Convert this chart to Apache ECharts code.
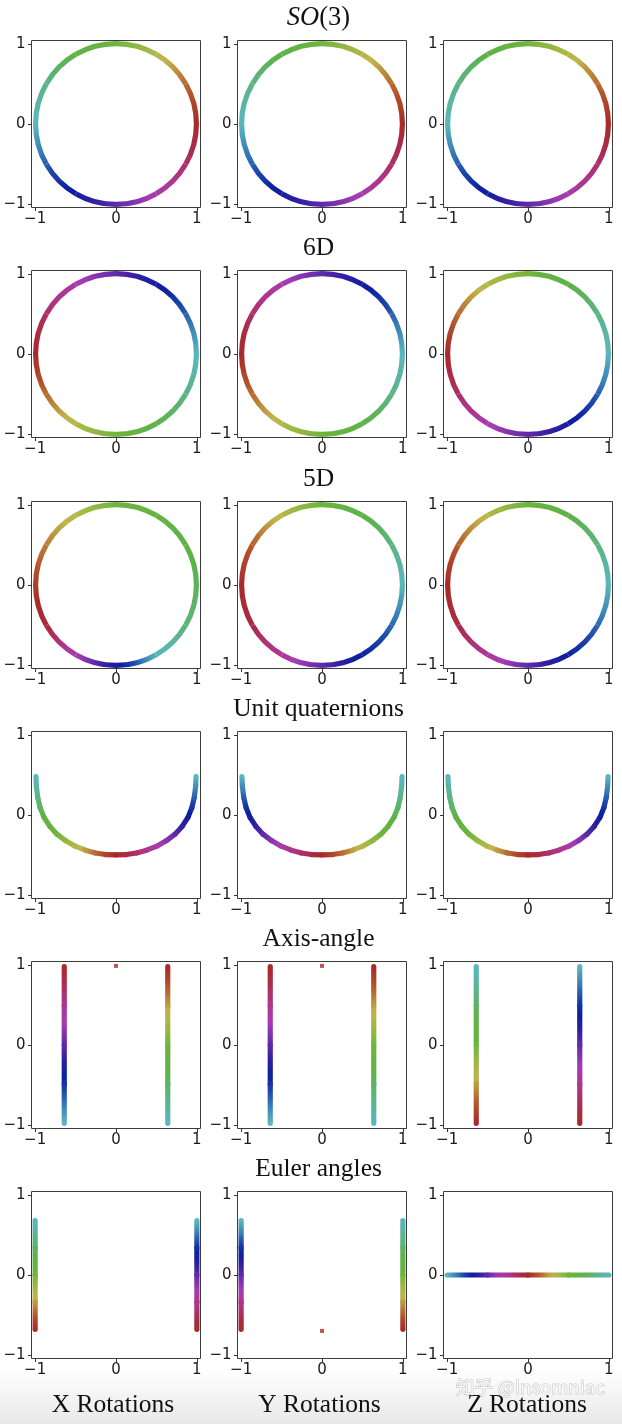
<!DOCTYPE html>
<html><head><meta charset="utf-8">
<script src="https://cdn.jsdelivr.net/npm/echarts@6/dist/echarts.min.js"></script>
<style>html,body{margin:0;padding:0;background:#fff}#c{width:622px;height:1424px}</style>
</head><body><div id="c"></div>
<script>
// ---------------- data ----------------
const ROW_TITLES = ['SO(3)', '6D', '5D', 'Unit quaternions', 'Axis-angle', 'Euler angles'];
const COL_TITLES = ['X Rotations', 'Y Rotations', 'Z Rotations'];
const TICKS = [-1, 0, 1];

// circles: anchor position angle (deg, counter-clockwise from +x) and colour parameter t (rotation / 360)
const CIRCLE_PHI = [0, 30, 60, 90, 120, 150, 180, 210, 240, 270, 300, 330, 360];
const T_SO3    = [0, 0.083, 0.167, 0.25, 0.333, 0.417, 0.5, 0.583, 0.667, 0.75, 0.833, 0.917, 1];
const T_6D_XY  = [0.5, 0.583, 0.667, 0.75, 0.833, 0.917, 1, 1.083, 1.167, 1.25, 1.333, 1.417, 1.5];
const T_6D_Z   = [0.5, 0.417, 0.333, 0.25, 0.167, 0.083, 0, -0.083, -0.167, -0.25, -0.333, -0.417, -0.5];
const T_5D_X   = [0.36, 0.325, 0.29, 0.25, 0.165, 0.10, 0.03, -0.03, -0.17, -0.33, -0.5, -0.6, -0.64];
const T_5D_YZ  = [0.5, 0.41, 0.33, 0.26, 0.16, 0.07, 0, -0.045, -0.14, -0.25, -0.355, -0.425, -0.5];

// unit quaternions: U-shaped curve, left end -> bottom -> right end
const QUAT_X = [-0.99, -0.985, -0.968, -0.938, -0.89, -0.82, -0.73, -0.625, -0.505, -0.38, -0.255, -0.128, 0,
                0.128, 0.255, 0.38, 0.505, 0.625, 0.73, 0.82, 0.89, 0.938, 0.968, 0.985, 0.99];
const QUAT_Y = [0.48, 0.36, 0.22, 0.09, -0.03, -0.14, -0.24, -0.32, -0.39, -0.44, -0.475, -0.495, -0.5,
                -0.495, -0.475, -0.44, -0.39, -0.32, -0.24, -0.14, -0.03, 0.09, 0.22, 0.36, 0.48];
const QUAT_T_XZ = [0.5, 0.458, 0.417, 0.375, 0.333, 0.292, 0.25, 0.208, 0.167, 0.125, 0.083, 0.042, 0,
                   -0.042, -0.083, -0.125, -0.167, -0.208, -0.25, -0.292, -0.333, -0.375, -0.417, -0.458, -0.5];
const QUAT_T_Y  = [0.5, 0.542, 0.583, 0.625, 0.667, 0.708, 0.75, 0.792, 0.833, 0.875, 0.917, 0.958, 1,
                   1.042, 1.083, 1.125, 1.167, 1.208, 1.25, 1.292, 1.333, 1.375, 1.417, 1.458, 1.5];

// axis-angle: two vertical lines
const AA_Y = [0.98, 0.49, 0, -0.49, -0.98];
const AA_XL = [-0.64, -0.64, -0.64, -0.64, -0.64];
const AA_XR = [0.64, 0.64, 0.64, 0.64, 0.64];
const AA_T_DOWN_RED_CYAN = [1, 0.875, 0.75, 0.625, 0.5];
const AA_T_RED_CYAN = [0, 0.125, 0.25, 0.375, 0.5];
const AA_T_CYAN_RED = [0.5, 0.375, 0.25, 0.125, 0];
const AA_T_CYAN_RED_B = [0.5, 0.625, 0.75, 0.875, 1];
const AA_DOT = [[0, 0.99]];

// Euler angles
const EU_Y = [0.68, 0.34, 0, -0.34, -0.68];
const EU_XL = [-1, -1, -1, -1, -1];
const EU_XR = [1, 1, 1, 1, 1];
const EU_T_GREEN = [0.5, 0.375, 0.25, 0.125, 0];
const EU_T_BLUE = [0.5, 0.625, 0.75, 0.875, 1];
const EU_Z_X = [-1, -0.5, 0, 0.5, 1];
const EU_Z_Y = [0, 0, 0, 0, 0];
const EU_Z_T = [0.5, 0.75, 1, 1.25, 1.5];
const EU_DOT = [[0, -0.7]];

// cyclic colour map
const CMAP_T = [0, 0.05, 0.10, 0.145, 0.20, 0.26, 0.34, 0.42, 0.47, 0.50, 0.555, 0.60, 0.65, 0.70, 0.75, 0.82, 0.89, 0.95, 1];
const CMAP_C = ['#a82a2a', '#b04a2a', '#ba7e36', '#c0b64c', '#98b842', '#6ab43e', '#5eb24a', '#5cb488', '#5ab6ac',
                '#5ab8bc', '#3a80b8', '#1e48aa', '#0c1ea0', '#2c1fa0', '#5e2aaa', '#a63cb2', '#ae3484', '#aa2c4a', '#a82a2a'];

// ---------------- panels ----------------
const PANELS = [
  {polar: [T_SO3]}, {polar: [T_SO3]}, {polar: [T_SO3]},
  {polar: [T_6D_XY]}, {polar: [T_6D_XY]}, {polar: [T_6D_Z]},
  {polar: [T_5D_X]}, {polar: [T_5D_YZ]}, {polar: [T_5D_YZ]},
  {lines: [[QUAT_X, QUAT_Y, QUAT_T_XZ]]}, {lines: [[QUAT_X, QUAT_Y, QUAT_T_Y]]}, {lines: [[QUAT_X, QUAT_Y, QUAT_T_XZ]]},
  {lines: [[AA_XL, AA_Y, AA_T_DOWN_RED_CYAN], [AA_XR, AA_Y, AA_T_RED_CYAN]], dots: AA_DOT},
  {lines: [[AA_XL, AA_Y, AA_T_DOWN_RED_CYAN], [AA_XR, AA_Y, AA_T_RED_CYAN]], dots: AA_DOT},
  {lines: [[AA_XL, AA_Y, AA_T_CYAN_RED], [AA_XR, AA_Y, AA_T_CYAN_RED_B]]},
  {lines: [[EU_XL, EU_Y, EU_T_GREEN], [EU_XR, EU_Y, EU_T_BLUE]]},
  {lines: [[EU_XL, EU_Y, EU_T_BLUE], [EU_XR, EU_Y, EU_T_GREEN]], dots: EU_DOT},
  {lines: [[EU_Z_X, EU_Z_Y, EU_Z_T]]}
];

// ---------------- layout ----------------
const LEFTS = [31.5, 237.5, 443.5];
const TOPS = [40.5, 270.5, 501.5, 731.5, 961.5, 1191.5];
const W = 169, H = 167, RANGE = 1.045;
const R_POLAR = 80.4;
const LW = 5.2;
const TITLE_X = 318.5;
const COL_LABEL_X = [113, 319.5, 527];
const SERIF = '"Liberation Serif", "Times New Roman", serif';

// ---------------- helpers ----------------
function hexRgb(h) { return [parseInt(h.substr(1, 2), 16), parseInt(h.substr(3, 2), 16), parseInt(h.substr(5, 2), 16)]; }
const CMAP_RGB = CMAP_C.map(hexRgb);
function cmap(t) {
  t = ((t % 1) + 1) % 1;
  for (let i = 0; i < CMAP_T.length - 1; i++) {
    if (t <= CMAP_T[i + 1]) {
      const f = (t - CMAP_T[i]) / (CMAP_T[i + 1] - CMAP_T[i]);
      const a = CMAP_RGB[i], b = CMAP_RGB[i + 1];
      return 'rgb(' + [0, 1, 2].map(k => Math.round(a[k] + (b[k] - a[k]) * f)).join(',') + ')';
    }
  }
  return CMAP_C[0];
}
function grad(p1, p2, t1, t2) {
  const stops = [];
  const n = 8;
  for (let k = 0; k <= n; k++) stops.push({offset: k / n, color: cmap(t1 + (t2 - t1) * k / n)});
  return new echarts.graphic.LinearGradient(p1[0], p1[1], p2[0], p2[1], stops, true);
}
function renderArc(params, api) {
  const a1 = api.value(1), t1 = api.value(2), a2 = api.value(3), t2 = api.value(4);
  const c = api.coord([0, 0]);
  const p1 = api.coord([1, a1]), p2 = api.coord([1, a2]);
  const r = Math.hypot(p1[0] - c[0], p1[1] - c[1]);
  const s = Math.atan2(p1[1] - c[1], p1[0] - c[0]);
  let e = Math.atan2(p2[1] - c[1], p2[0] - c[0]);
  while (e > s) e -= Math.PI * 2;
  return {
    type: 'arc',
    shape: {cx: c[0], cy: c[1], r: r, startAngle: s, endAngle: e, clockwise: false},
    style: {fill: 'none', stroke: grad(p1, p2, t1, t2), lineWidth: LW, lineCap: 'butt'}
  };
}
function renderSeg(params, api) {
  const p1 = api.coord([api.value(0), api.value(1)]);
  const p2 = api.coord([api.value(3), api.value(4)]);
  return {
    type: 'line',
    shape: {x1: p1[0], y1: p1[1], x2: p2[0], y2: p2[1]},
    style: {stroke: grad(p1, p2, api.value(2), api.value(5)), lineWidth: LW, lineCap: 'round'}
  };
}
function fmt(v) { return (v < 0 ? '\u2212' : '') + Math.abs(v); }
function axis(i, dim) {
  return {
    gridIndex: i, type: 'value', min: -RANGE, max: RANGE,
    position: dim === 'x' ? 'bottom' : 'left',
    splitLine: {show: false},
    axisLine: {show: false, onZero: false},
    axisTick: {show: true, customValues: TICKS, length: 3.5, lineStyle: {color: '#333', width: 1}},
    axisLabel: {customValues: TICKS, formatter: fmt, fontSize: 15, fontFamily: '"DejaVu Sans", sans-serif',
                color: '#1a1a1a', margin: dim === 'x' ? 4 : 6}
  };
}

// ---------------- build option ----------------
const grids = [], xAxes = [], yAxes = [], polars = [], angleAxes = [], radiusAxes = [], series = [];
PANELS.forEach((p, i) => {
  const row = Math.floor(i / 3), col = i % 3;
  const left = LEFTS[col], top = TOPS[row];
  grids.push({left: left, top: top, width: W, height: H, show: true, borderColor: '#3c3c3c', borderWidth: 1, backgroundColor: '#fff'});
  xAxes.push(axis(i, 'x'));
  yAxes.push(axis(i, 'y'));
  if (p.polar) {
    const pi = polars.length;
    polars.push({center: [left + W / 2, top + H / 2], radius: R_POLAR});
    angleAxes.push({polarIndex: pi, type: 'value', min: 0, max: 360, startAngle: 0, clockwise: false, show: false});
    radiusAxes.push({polarIndex: pi, type: 'value', min: 0, max: 1, show: false});
    p.polar.forEach(ts => {
      const data = [];
      for (let k = 0; k < CIRCLE_PHI.length - 1; k++) data.push([1, CIRCLE_PHI[k], ts[k], CIRCLE_PHI[k + 1], ts[k + 1]]);
      series.push({type: 'custom', coordinateSystem: 'polar', polarIndex: pi, renderItem: renderArc, data: data, silent: true, z: 3});
    });
  }
  (p.lines || []).forEach(([xs, ys, ts]) => {
    const data = [];
    for (let k = 0; k < xs.length - 1; k++) data.push([xs[k], ys[k], ts[k], xs[k + 1], ys[k + 1], ts[k + 1]]);
    series.push({type: 'custom', coordinateSystem: 'cartesian2d', xAxisIndex: i, yAxisIndex: i, renderItem: renderSeg, data: data, silent: true, z: 3});
  });
  if (p.dots) {
    series.push({type: 'scatter', xAxisIndex: i, yAxisIndex: i, data: p.dots, symbol: 'rect', symbolSize: 4,
                 itemStyle: {color: cmap(0)}, silent: true, z: 4});
  }
});

const graphics = [];
ROW_TITLES.forEach((t, r) => {
  const style = {fill: '#111', align: 'center', verticalAlign: 'middle', fontFamily: SERIF, fontSize: 25.5};
  if (t === 'SO(3)') {
    style.text = '{i|SO}{n|(3)}';
    style.rich = {i: {fontStyle: 'italic', fontFamily: SERIF, fontSize: 26.5, fill: '#111'},
                  n: {fontFamily: SERIF, fontSize: 26.5, fill: '#111'}};
  } else {
    style.text = t;
  }
  graphics.push({type: 'text', x: TITLE_X, y: TOPS[r] - 22.5, style: style, z: 10});
});
COL_TITLES.forEach((t, c) => {
  graphics.push({type: 'text', x: COL_LABEL_X[c], y: 1405.5,
    style: {text: t, fill: '#111', align: 'center', verticalAlign: 'middle', fontFamily: SERIF, fontSize: 25.5}, z: 10});
});
graphics.push({type: 'text', x: 456, y: 1387,
  style: {text: '知乎 @Insomniac', fill: 'rgba(255,255,255,0.85)', stroke: 'rgba(110,110,110,0.4)', lineWidth: 1,
          align: 'left', verticalAlign: 'middle', fontFamily: '"Noto Sans CJK SC", "Noto Sans", sans-serif', fontSize: 18.5}, z: 20});

const chart = echarts.init(document.getElementById('c'));
chart.setOption({
  animation: false,
  backgroundColor: new echarts.graphic.LinearGradient(0, 0, 0, 1, [
    {offset: 0, color: '#ffffff'}, {offset: 0.962, color: '#ffffff'}, {offset: 1, color: '#e8e8e8'}]),
  grid: grids, xAxis: xAxes, yAxis: yAxes,
  polar: polars, angleAxis: angleAxes, radiusAxis: radiusAxes,
  series: series,
  graphic: {elements: graphics}
});
</script>
</body></html>
